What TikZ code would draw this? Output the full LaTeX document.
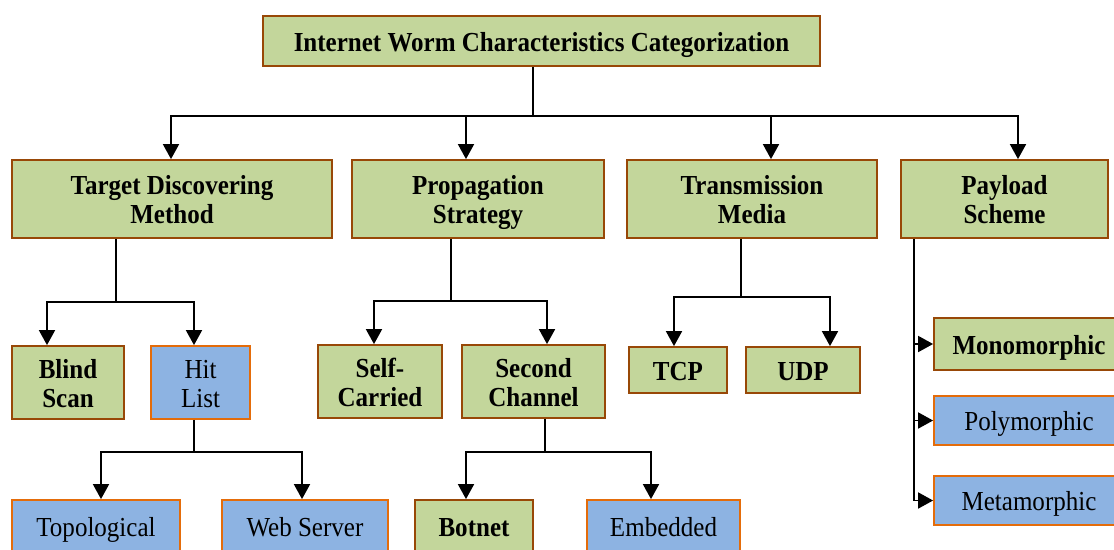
\documentclass[tikz,border=0pt]{standalone}
\usepackage{fontspec}
\setmainfont[FakeStretch=0.91]{Liberation Serif}
\usetikzlibrary{arrows.meta}
\definecolor{gfill}{RGB}{195,214,155}
\definecolor{gbord}{RGB}{152,72,7}
\definecolor{bfill}{RGB}{141,179,226}
\definecolor{bbord}{RGB}{228,108,10}
\newcommand{\topstrut}{\rule[-8.7pt]{0pt}{38.2pt}}
\begin{document}
\begin{tikzpicture}[x=1pt,y=-1pt,
  base/.style={line width=1.8pt, align=center, inner sep=0pt, text=black,
    font=\fontsize{27.5}{29}\selectfont},
  gbox/.style={base, draw=gbord, fill=gfill, font=\fontsize{27.5}{29}\selectfont\bfseries},
  bbox/.style={base, draw=bbord, fill=bfill},
  conn/.style={line width=1.8pt, draw=black},
  arr/.style={conn, -{Triangle[width=16pt,length=15pt]}}]
\useasboundingbox (0,0) rectangle (1114,549);
\clip (0,0) rectangle (1114,549);
% nodes
\node[gbox, minimum width=557, minimum height=50] (root) at (541.5,41) {\topstrut Internet Worm Characteristics Categorization};
\node[gbox, minimum width=320, minimum height=78] (tdm) at (172,199) {\topstrut Target Discovering\\Method\strut};
\node[gbox, minimum width=252, minimum height=78] (ps) at (478,199) {\topstrut Propagation\\Strategy\strut};
\node[gbox, minimum width=250, minimum height=78] (tm) at (752,199) {\topstrut Transmission\\Media\strut};
\node[gbox, minimum width=207, minimum height=78] (pay) at (1004.5,199) {\topstrut Payload\\Scheme\strut};
\node[gbox, minimum width=112, minimum height=73] (blind) at (68,382.5) {\topstrut Blind\\Scan\strut};
\node[bbox, minimum width=99, minimum height=73] (hit) at (200.5,382.5) {\topstrut Hit\\List\strut};
\node[bbox, minimum width=168, minimum height=53] (topo) at (96,526.5) {\topstrut Topological};
\node[bbox, minimum width=166, minimum height=53] (web) at (305,526.5) {\topstrut Web Server};
\node[gbox, minimum width=124, minimum height=73] (self) at (380,381.5) {\topstrut Self-\\Carried\strut};
\node[gbox, minimum width=143, minimum height=73] (sc) at (533.5,381.5) {\topstrut Second\\Channel\strut};
\node[gbox, minimum width=118, minimum height=53] (bot) at (474,526.5) {\topstrut Botnet};
\node[bbox, minimum width=153, minimum height=53] (emb) at (663.5,526.5) {\topstrut Embedded};
\node[gbox, minimum width=98, minimum height=46] (tcp) at (678,370) {\topstrut TCP};
\node[gbox, minimum width=114, minimum height=46] (udp) at (803,370) {\topstrut UDP};
\node[gbox, minimum width=190, minimum height=52] (mono) at (1029,344) {\topstrut Monomorphic};
\node[bbox, minimum width=190, minimum height=49] (poly) at (1029,420.5) {\topstrut Polymorphic};
\node[bbox, minimum width=190, minimum height=49] (meta) at (1029,500.5) {\topstrut Metamorphic};
% junctions
\coordinate (j0) at (533,116);
\coordinate (j1) at (116,302);
\coordinate (j2) at (194,452);
\coordinate (j3) at (451,301);
\coordinate (j4) at (545,452);
\coordinate (j5) at (741,297);
% connectors
\draw[conn] (root.south -| j0) -- (j0);
\draw[arr] (j0) -| ([xshift=-1pt]tdm.north);
\draw[arr] (j0) -| ([xshift=-12pt]ps.north);
\draw[arr] (j0) -| ([xshift=19pt]tm.north);
\draw[arr] (j0) -| ([xshift=13.5pt]pay.north);
\draw[conn] (tdm.south -| j1) -- (j1);
\draw[arr] (j1) -| ([xshift=-21pt]blind.north);
\draw[arr] (j1) -| ([xshift=-6.5pt]hit.north);
\draw[conn] (hit.south -| j2) -- (j2);
\draw[arr] (j2) -| ([xshift=5pt]topo.north);
\draw[arr] (j2) -| ([xshift=-3pt]web.north);
\draw[conn] (ps.south -| j3) -- (j3);
\draw[arr] (j3) -| ([xshift=-6pt]self.north);
\draw[arr] (j3) -| ([xshift=13.5pt]sc.north);
\draw[conn] (sc.south -| j4) -- (j4);
\draw[arr] (j4) -| ([xshift=-8pt]bot.north);
\draw[arr] (j4) -| ([xshift=-12.5pt]emb.north);
\draw[conn] (tm.south -| j5) -- (j5);
\draw[arr] (j5) -| ([xshift=-4pt]tcp.north);
\draw[arr] (j5) -| ([xshift=27pt]udp.north);
\draw[conn] ([xshift=-90.5pt]pay.south) -- ([xshift=-90.5pt]pay.south |- meta.west);
\draw[arr] ([xshift=-90.5pt]pay.south |- mono.west) -- (mono.west);
\draw[arr] ([xshift=-90.5pt]pay.south |- poly.west) -- (poly.west);
\draw[arr] ([xshift=-90.5pt]pay.south |- meta.west) -- (meta.west);
\end{tikzpicture}
\end{document}
